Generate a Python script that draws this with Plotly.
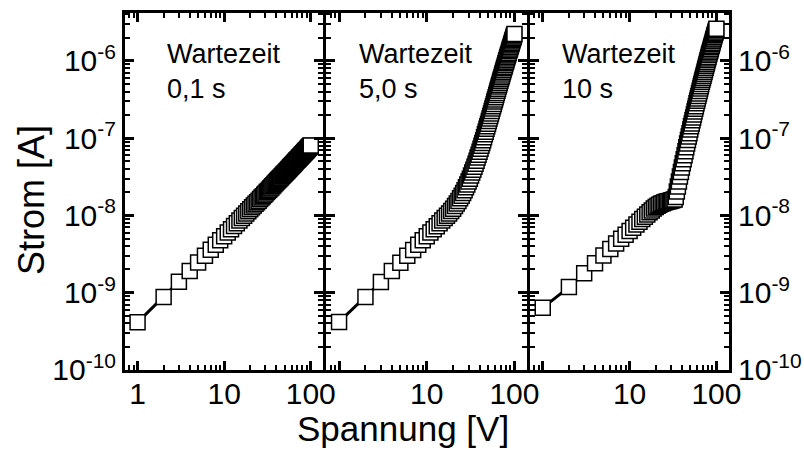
import plotly.graph_objects as go

# ---------------- data ----------------
voltage = list(range(1, 101))  # Spannung [V], 1 V steps

# Strom in nA
current_0_1s_nA = [
    0.412, 0.880, 1.38, 1.90, 2.45, 3.00, 3.58, 4.17, 4.76, 5.38,
    5.99, 6.63, 7.27, 7.91, 8.57, 9.24, 9.90, 10.6, 11.3, 12.0,
    12.7, 13.4, 14.1, 14.8, 15.5, 16.3, 17.0, 17.7, 18.5, 19.2,
    20.0, 20.7, 21.5, 22.2, 23.0, 23.8, 24.6, 25.4, 26.2, 27.0,
    27.8, 28.6, 29.4, 30.2, 31.0, 31.9, 32.6, 33.5, 34.3, 35.2,
    36.0, 36.8, 37.6, 38.5, 39.3, 40.2, 41.1, 41.9, 42.8, 43.6,
    44.5, 45.3, 46.2, 47.1, 48.0, 49.0, 49.8, 50.8, 51.6, 52.5,
    53.3, 54.2, 55.1, 56.1, 57.0, 57.9, 58.7, 59.7, 60.7, 61.6,
    62.4, 63.5, 64.4, 65.3, 66.2, 67.1, 68.2, 69.0, 69.9, 70.9,
    71.9, 72.9, 73.7, 74.8, 75.8, 76.6, 77.7, 78.6, 79.7, 80.5,
]

current_5_0s_nA = [
    0.417, 0.875, 1.37, 1.91, 2.44, 3.01, 3.57, 4.16, 4.77, 5.36,
    5.98, 6.62, 7.25, 7.90, 8.55, 9.22, 9.92, 10.6, 11.4, 12.2,
    13.2, 14.2, 15.4, 16.6, 18.0, 19.5, 21.2, 23.1, 25.1, 27.4,
    29.9, 32.7, 35.9, 39.0, 42.7, 46.7, 51.1, 56.1, 61.1, 66.8,
    73.0, 79.4, 86.4, 94.1, 103, 112, 121, 132, 142, 154,
    167, 180, 194, 208, 224, 241, 259, 277, 298, 317,
    338, 361, 384, 410, 437, 465, 491, 523, 552, 583,
    615, 649, 685, 722, 762, 803, 840, 885, 933, 975,
    1018, 1073, 1120, 1170, 1221, 1275, 1343, 1389, 1450, 1513,
    1578, 1647, 1703, 1777, 1853, 1916, 1998, 2065, 2153, 2226,
]

current_10s_nA = [
    0.635, 1.18, 1.78, 2.40, 3.03, 3.67, 4.32, 4.97, 5.62, 6.28,
    6.93, 7.60, 8.28, 8.95, 9.62, 10.3, 11.0, 11.6, 12.3, 12.8,
    13.3, 13.7, 14.1, 14.4, 14.7, 14.9, 15.1, 15.2, 15.4, 15.6,
    15.7, 15.9, 16.0, 17.3, 20.4, 23.7, 27.5, 31.9, 36.4, 41.6,
    47.4, 53.4, 60.1, 67.6, 76.0, 85.3, 94.6, 105, 116, 129,
    142, 155, 170, 185, 202, 221, 240, 259, 282, 304,
    327, 352, 379, 408, 438, 471, 501, 538, 571, 607,
    644, 684, 725, 770, 816, 866, 909, 963, 1020, 1070,
    1122, 1188, 1246, 1306, 1368, 1433, 1515, 1572, 1646, 1723,
    1803, 1887, 1956, 2046, 2140, 2218, 2318, 2402, 2510, 2600,
]

panel_labels = ["Wartezeit<br>0,1 s", "Wartezeit<br>5,0 s", "Wartezeit<br>10 s"]

x_tickvals = [1, 10, 100]
x_ticktext_first = ["1", "10", "100"]
x_ticktext_other = ["", "10", "100"]
x_minor = [m * 10 ** e for e in (-1, 0, 1, 2) for m in range(2, 10)]
x_minor = [v for v in x_minor if 0.7 < v < 140]

y_tickvals = [1e-10, 1e-9, 1e-8, 1e-7, 1e-6]
y_ticktext = ["10<sup>-10</sup>", "10<sup>-9</sup>", "10<sup>-8</sup>",
              "10<sup>-7</sup>", "10<sup>-6</sup>"]
y_minor = [m * 10.0 ** e for e in range(-10, -5) for m in range(2, 10)]
y_minor = [v for v in y_minor if v < 4.1e-6]

series = [current_0_1s_nA, current_5_0s_nA, current_10s_nA]

# ---------------- layout geometry (pixels) ----------------
W, H = 804, 450
L, R, T, B = 125, 74.5, 13, 80
LW = 3
pw = W - L - R
ph = H - T - B
edges = [(125, 323.5), (326.5, 527.5), (530.5, 729.5)]
domains = [[(a - L) / pw, (b - L) / pw] for a, b in edges]


def px_x(p):
    return (p - L) / pw


def px_y(p):
    return (H - B - p) / ph


FONT = "Liberation Sans, Arial, sans-serif"

fig = go.Figure()
for i, vals in enumerate(series):
    fig.add_trace(go.Scatter(
        x=voltage,
        y=[v * 1e-9 for v in vals],
        mode="lines+markers",
        line=dict(color="black", width=3),
        marker=dict(symbol="square", size=15, color="white",
                    line=dict(color="black", width=1.5)),
        xaxis="x" if i == 0 else f"x{i+1}",
        yaxis="y" if i == 0 else f"y{i+1}",
        showlegend=False,
        cliponaxis=True,
    ))

common_x = dict(
    type="log", range=[-0.145, 2.145], showline=True, linewidth=LW,
    linecolor="black", mirror="ticks", ticks="inside", ticklen=9,
    tickwidth=3, tickcolor="black", showgrid=False, zeroline=False,
    automargin=False,
    tickvals=x_tickvals, tickfont=dict(family=FONT, size=30, color="black"),
    ticklabelstandoff=-5,
    minor=dict(tickvals=x_minor, ticks="inside", ticklen=5, tickwidth=2,
               tickcolor="black", showgrid=False),
)
common_y = dict(
    type="log", range=[-10.002, -5.38], showline=True, linewidth=LW,
    linecolor="black", mirror="ticks", ticks="inside", ticklen=9,
    tickwidth=3, tickcolor="black", showgrid=False, zeroline=False,
    automargin=False,
    tickvals=y_tickvals, ticktext=y_ticktext,
    tickfont=dict(family=FONT, size=30, color="black"),
    minor=dict(tickvals=y_minor, ticks="inside", ticklen=5, tickwidth=2,
               tickcolor="black", showgrid=False),
)

layout = dict(
    width=W, height=H,
    autosize=False,
    margin=dict(l=L, r=R, t=T, b=B, pad=0, autoexpand=False),
    paper_bgcolor="white", plot_bgcolor="white",
    font=dict(family=FONT, color="black"),
)
for i in range(3):
    xk = "xaxis" if i == 0 else f"xaxis{i+1}"
    yk = "yaxis" if i == 0 else f"yaxis{i+1}"
    xa = dict(common_x)
    xa["domain"] = domains[i]
    xa["anchor"] = "y" if i == 0 else f"y{i+1}"
    xa["ticktext"] = x_ticktext_first if i == 0 else x_ticktext_other
    ya = dict(common_y)
    ya["domain"] = [0, 1]
    ya["anchor"] = "x" if i == 0 else f"x{i+1}"
    if i == 1:
        ya["showticklabels"] = False
    if i == 2:
        ya["side"] = "right"
        ya["ticklabelstandoff"] = 0
    layout[xk] = xa
    layout[yk] = ya

fig.update_layout(**layout)

ann_left = [165, 357, 560]
for i, txt in enumerate(panel_labels):
    fig.add_annotation(
        xref="paper", yref="paper", x=px_x(ann_left[i]), y=px_y(37),
        xanchor="left", yanchor="top", align="left", showarrow=False,
        text=txt, font=dict(family=FONT, size=27, color="black"),
    )

fig.add_annotation(
    xref="paper", yref="paper", x=px_x(403), y=px_y(428),
    xanchor="center", yanchor="middle", showarrow=False,
    text="Spannung [V]", font=dict(family=FONT, size=35, color="black"),
)
fig.add_annotation(
    xref="paper", yref="paper", x=px_x(31), y=px_y(200),
    xanchor="center", yanchor="middle", showarrow=False, textangle=-90,
    text="Strom [A]", font=dict(family=FONT, size=36, color="black"),
)

fig.write_html("out.html")
